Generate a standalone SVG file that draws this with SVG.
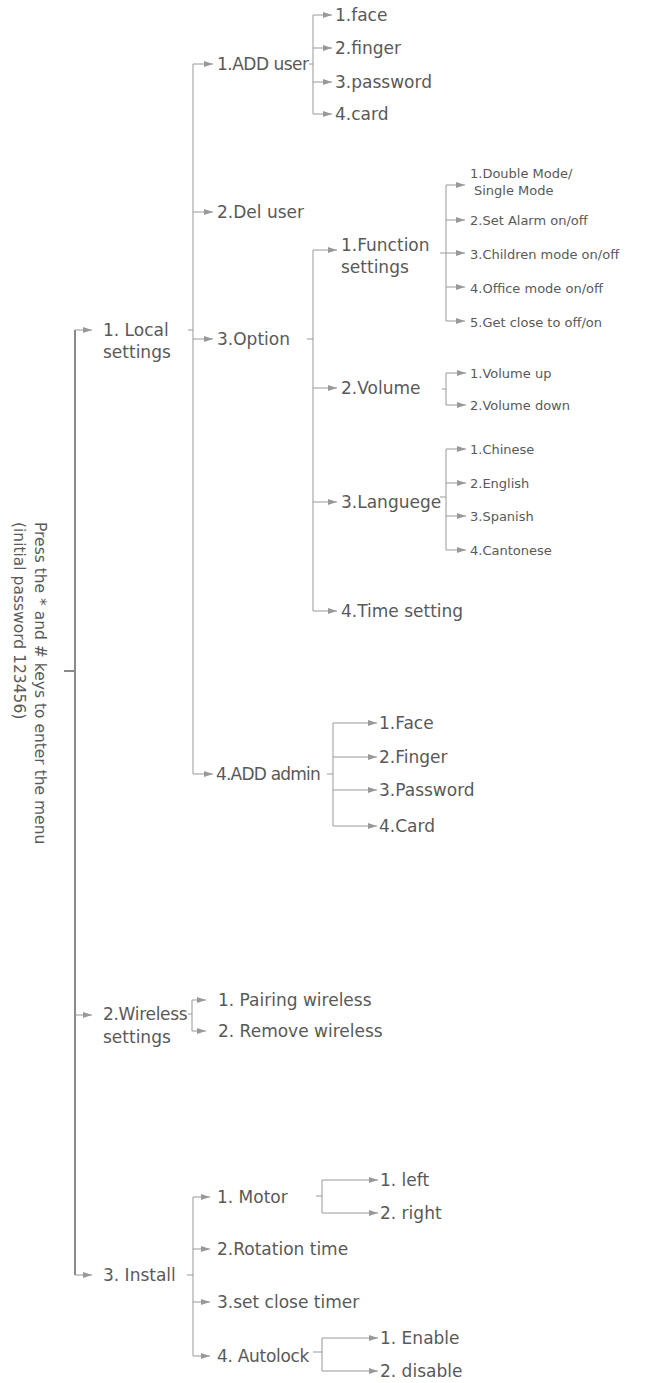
<svg xmlns="http://www.w3.org/2000/svg" width="645" height="1383" viewBox="0 0 645 1383">
<style>
text{font-family:"DejaVu Sans","Liberation Sans",sans-serif;fill:#595959}
.l{font-size:17px}
.s{font-size:13px}
.v{font-size:15.5px}
.c path{fill:none;stroke:#999;stroke-width:1}
.c .a{marker-end:url(#ah)}
.c .m{stroke:#8a8a8a;stroke-width:2}
</style>
<defs>
<marker id="ah" markerUnits="userSpaceOnUse" markerWidth="9" markerHeight="6" refX="9" refY="3" orient="auto" viewBox="0 0 9 6">
<path d="M0,0 L9,3 L0,6 z" fill="#999"/>
</marker>
</defs>
<rect width="645" height="1383" fill="#fff"/>
<g id="connectors" class="c">
<path class="m" d="M64,671 H75 M75,330 V1275"/>
<path class="a" d="M75,330 H92"/>
<path class="a" d="M75,1015 H92"/>
<path class="a" d="M75,1275 H92"/>
<path d="M188,330 H193 M193,64 V774"/>
<path class="a" d="M193,64 H213"/>
<path class="a" d="M193,212 H213"/>
<path class="a" d="M193,339 H213"/>
<path class="a" d="M193,774 H213"/>
<path d="M309,64 H313 M313,15 V114"/>
<path class="a" d="M313,15 H332"/>
<path class="a" d="M313,48 H332"/>
<path class="a" d="M313,82 H332"/>
<path class="a" d="M313,114 H332"/>
<path d="M307,339 H313 M313,250 V611"/>
<path class="a" d="M313,250 H337"/>
<path class="a" d="M313,388 H337"/>
<path class="a" d="M313,502 H337"/>
<path class="a" d="M313,611 H337"/>
<path d="M440,253 H446 M446,185 V321"/>
<path class="a" d="M446,185 H465"/>
<path class="a" d="M446,220 H465"/>
<path class="a" d="M446,253 H465"/>
<path class="a" d="M446,287 H465"/>
<path class="a" d="M446,321 H465"/>
<path d="M442,389 H446 M446,373 V405"/>
<path class="a" d="M446,373 H466"/>
<path class="a" d="M446,405 H466"/>
<path d="M440,497 H446 M446,449 V550"/>
<path class="a" d="M446,449 H466"/>
<path class="a" d="M446,483 H466"/>
<path class="a" d="M446,516 H466"/>
<path class="a" d="M446,550 H466"/>
<path d="M327,774 H333 M333,723 V826"/>
<path class="a" d="M333,723 H377"/>
<path class="a" d="M333,757 H377"/>
<path class="a" d="M333,790 H377"/>
<path class="a" d="M333,826 H377"/>
<path d="M188,1014 H192 M192,1000 V1031"/>
<path class="a" d="M192,1000 H206"/>
<path class="a" d="M192,1031 H206"/>
<path d="M187,1275 H193 M193,1197 V1356"/>
<path class="a" d="M193,1197 H210"/>
<path class="a" d="M193,1249 H210"/>
<path class="a" d="M193,1302 H210"/>
<path class="a" d="M193,1356 H210"/>
<path d="M316,1196 H322 M322,1180 V1213"/>
<path class="a" d="M322,1180 H378"/>
<path class="a" d="M322,1213 H378"/>
<path d="M313,1352 H322 M322,1338 V1371"/>
<path class="a" d="M322,1338 H378"/>
<path class="a" d="M322,1371 H378"/>
</g>
<g id="root"><text class="v" transform="translate(35,522) rotate(90)">Press the * and # keys to enter the menu</text><text class="v" transform="translate(14,522) rotate(90)">(initial password 123456)</text></g>
<g id="local"><text class="l" x="103" y="336">1. Local</text><text class="l" x="103" y="358">settings</text></g>
<g id="adduser"><text class="l" x="217" y="70" letter-spacing="-0.5">1.ADD user</text></g>
<g id="au-face"><text class="l" x="335" y="21">1.face</text></g>
<g id="au-finger"><text class="l" x="335" y="54">2.finger</text></g>
<g id="au-password"><text class="l" x="335" y="88">3.password</text></g>
<g id="au-card"><text class="l" x="335" y="120">4.card</text></g>
<g id="deluser"><text class="l" x="217" y="218">2.Del user</text></g>
<g id="option"><text class="l" x="217" y="345">3.Option</text></g>
<g id="function"><text class="l" x="341" y="251">1.Function</text><text class="l" x="341" y="273">settings</text></g>
<g id="fs-double"><text class="s" x="470" y="178">1.Double Mode/</text><text class="s" x="474" y="195">Single Mode</text></g>
<g id="fs-alarm"><text class="s" x="470" y="225">2.Set Alarm on/off</text></g>
<g id="fs-children"><text class="s" x="470" y="259">3.Children mode on/off</text></g>
<g id="fs-office"><text class="s" x="470" y="293">4.Office mode on/off</text></g>
<g id="fs-close"><text class="s" x="470" y="327">5.Get close to off/on</text></g>
<g id="volume"><text class="l" x="341" y="394">2.Volume</text></g>
<g id="vol-up"><text class="s" x="470" y="378">1.Volume up</text></g>
<g id="vol-down"><text class="s" x="470" y="410">2.Volume down</text></g>
<g id="languege"><text class="l" x="341" y="508">3.Languege</text></g>
<g id="lg-chinese"><text class="s" x="470" y="454">1.Chinese</text></g>
<g id="lg-english"><text class="s" x="470" y="488">2.English</text></g>
<g id="lg-spanish"><text class="s" x="470" y="521">3.Spanish</text></g>
<g id="lg-cantonese"><text class="s" x="470" y="555">4.Cantonese</text></g>
<g id="time"><text class="l" x="341" y="617">4.Time setting</text></g>
<g id="addadmin"><text class="l" x="216" y="780" letter-spacing="-0.8">4.ADD admin</text></g>
<g id="aa-face"><text class="l" x="379" y="729">1.Face</text></g>
<g id="aa-finger"><text class="l" x="379" y="763">2.Finger</text></g>
<g id="aa-password"><text class="l" x="379" y="796">3.Password</text></g>
<g id="aa-card"><text class="l" x="379" y="832">4.Card</text></g>
<g id="wireless"><text class="l" x="103" y="1020" letter-spacing="-0.3">2.Wireless</text><text class="l" x="103" y="1043">settings</text></g>
<g id="w-pair"><text class="l" x="218" y="1006">1. Pairing wireless</text></g>
<g id="w-remove"><text class="l" x="218" y="1037">2. Remove wireless</text></g>
<g id="install"><text class="l" x="103" y="1281">3. Install</text></g>
<g id="motor"><text class="l" x="217" y="1203">1. Motor</text></g>
<g id="m-left"><text class="l" x="380" y="1186">1. left</text></g>
<g id="m-right"><text class="l" x="380" y="1219">2. right</text></g>
<g id="rotation"><text class="l" x="217" y="1255">2.Rotation time</text></g>
<g id="timer"><text class="l" x="217" y="1308">3.set close timer</text></g>
<g id="autolock"><text class="l" x="217" y="1362" letter-spacing="-0.3">4. Autolock</text></g>
<g id="al-enable"><text class="l" x="380" y="1344">1. Enable</text></g>
<g id="al-disable"><text class="l" x="380" y="1377">2. disable</text></g>
</svg>
